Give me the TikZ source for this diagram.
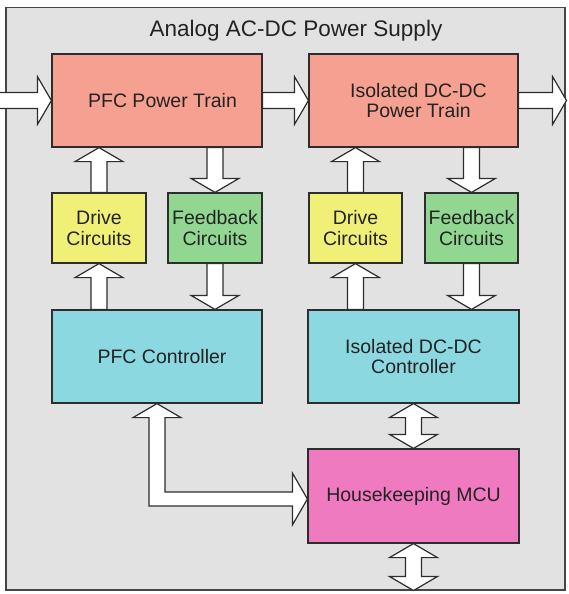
\documentclass[tikz,border=0pt]{standalone}
\usepackage{fontspec}
\setmainfont{Liberation Sans}
\usetikzlibrary{calc}
\definecolor{bgc}{RGB}{226,226,226}
\definecolor{framec}{RGB}{70,70,70}
\definecolor{linec}{RGB}{45,45,45}
\definecolor{textc}{RGB}{35,35,35}
\definecolor{salmonc}{RGB}{245,160,145}
\definecolor{yellowc}{RGB}{240,240,120}
\definecolor{greenc}{RGB}{145,215,145}
\definecolor{cyanc}{RGB}{140,216,224}
\definecolor{pinkc}{RGB}{240,122,192}
\tikzset{
  x=1pt, y=1pt,
  framebox/.style={draw=framec, line width=1.5pt, fill=bgc, inner sep=0pt, anchor=north west},
  blockbox/.style={draw=linec, line width=1.2pt, align=center, inner sep=0pt, text=textc,
    font=\fontsize{19.5}{20.5}\selectfont},
  bigbox/.style={blockbox, minimum width=210pt, minimum height=93pt},
  smallbox/.style={blockbox, minimum width=94pt, minimum height=70pt},
  titletext/.style={text=textc, font=\fontsize{22.5}{24}\selectfont, inner sep=0pt, anchor=base},
  fatarr/.style={draw=linec, fill=white, line width=1.2pt, line join=miter},
}
\newcommand{\fatarrow}[2]{%
  \coordinate (fat) at (#1); \coordinate (fah) at (#2);
  \coordinate (fab) at ($(fah)!14pt!(fat)$);
  \draw[fatarr] ($(fat)!8pt!90:(fah)$) -- ($(fab)!8pt!-90:(fat)$) -- ($(fab)!24pt!-90:(fat)$)
    -- (fah) -- ($(fab)!24pt!90:(fat)$) -- ($(fab)!8pt!90:(fat)$) -- ($(fat)!8pt!-90:(fah)$) -- cycle;}
\newcommand{\dblarrow}[2]{%
  \coordinate (daa) at (#1); \coordinate (dab) at (#2);
  \coordinate (dba) at ($(daa)!14pt!(dab)$);
  \coordinate (dbb) at ($(dab)!14pt!(daa)$);
  \draw[fatarr] (daa) -- ($(dba)!24pt!90:(dab)$) -- ($(dba)!8pt!90:(dab)$) -- ($(dbb)!8pt!-90:(daa)$)
    -- ($(dbb)!24pt!-90:(daa)$) -- (dab) -- ($(dbb)!24pt!90:(daa)$) -- ($(dbb)!8pt!90:(daa)$)
    -- ($(dba)!8pt!-90:(dab)$) -- ($(dba)!24pt!-90:(dab)$) -- cycle;}
\begin{document}
\begin{tikzpicture}
\useasboundingbox (0,0) rectangle (569,-594);
\node[framebox, minimum width=559pt, minimum height=582pt] (frame) at (5,-7) {};
\node[titletext] (title) at (296,-37) {Analog AC-DC Power Supply};

\node[bigbox, fill=salmonc] (pfc) at (157,-100.5) {\hspace*{11pt}PFC Power Train};
\node[bigbox, fill=salmonc, minimum width=209pt] (iso) at (413.5,-100.5) {\hspace*{10pt}Isolated DC-DC\\\hspace*{10pt}Power Train};

\node[smallbox, fill=yellowc] (drv1) at (99,-228) {Drive\\Circuits};
\node[smallbox, fill=greenc] (fb1) at (215,-228) {Feedback\\Circuits};
\node[smallbox, fill=yellowc, minimum width=93pt] (drv2) at (355.5,-228) {Drive\\Circuits};
\node[smallbox, fill=greenc, minimum width=93pt] (fb2) at (471.5,-228) {Feedback\\Circuits};

\node[bigbox, fill=cyanc] (ctl1) at (157,-356.5) {\hspace*{10pt}PFC Controller};
\node[bigbox, fill=cyanc, minimum width=211pt] (ctl2) at (413.5,-356.5) {Isolated DC-DC\\Controller};

\node[bigbox, fill=pinkc, minimum width=211pt, minimum height=94pt] (mcu) at (413.5,-496) {Housekeeping MCU};

\coordinate (acin) at ([xshift=-7pt]frame.west |- pfc.west);
\coordinate (dcout) at ([xshift=1pt]frame.east |- iso.east);
\coordinate (bus) at (frame.south -| mcu.south);

\fatarrow{acin}{pfc.west}
\fatarrow{pfc.east}{iso.west}
\fatarrow{iso.east}{dcout}

\fatarrow{drv1.north}{pfc.south -| drv1.north}
\fatarrow{pfc.south -| fb1.north}{fb1.north}
\fatarrow{ctl1.north -| drv1.south}{drv1.south}
\fatarrow{fb1.south}{ctl1.north -| fb1.south}

\fatarrow{drv2.north}{iso.south -| drv2.north}
\fatarrow{iso.south -| fb2.north}{fb2.north}
\fatarrow{ctl2.north -| drv2.south}{drv2.south}
\fatarrow{fb2.south}{ctl2.north -| fb2.south}

\dblarrow{ctl2.south}{mcu.north}
\dblarrow{mcu.south}{bus}

\draw[fatarr] let \p1=(ctl1.south), \p2=([yshift=-3pt]mcu.west) in
  (\x1,\y1) -- (\x1-24pt,\y1-14pt) -- (\x1-8pt,\y1-14pt) -- (\x1-8pt,\y2-7pt)
  -- (\x2-15pt,\y2-7pt) -- (\x2-15pt,\y2-26pt) -- (\x2,\y2) -- (\x2-15pt,\y2+26pt)
  -- (\x2-15pt,\y2+7pt) -- (\x1+8pt,\y2+7pt) -- (\x1+8pt,\y1-14pt) -- (\x1+24pt,\y1-14pt) -- cycle;
\end{tikzpicture}
\end{document}
